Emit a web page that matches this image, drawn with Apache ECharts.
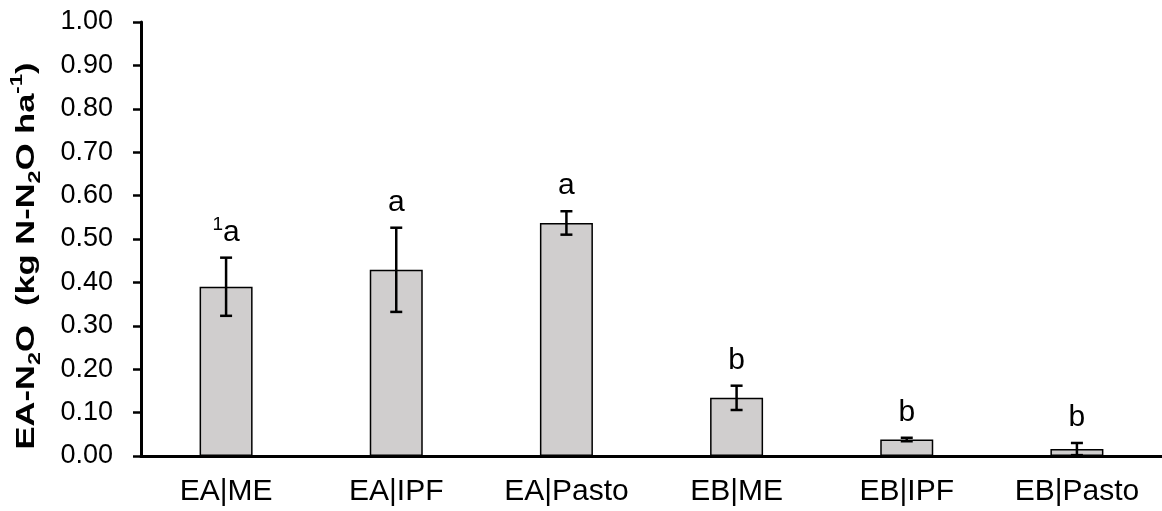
<!DOCTYPE html>
<html>
<head>
<meta charset="utf-8">
<script src="https://cdn.jsdelivr.net/npm/echarts@6/dist/echarts.min.js"></script>
<style>
html,body{margin:0;padding:0;background:#fff;}
#c{width:1162px;height:511px;}
</style>
</head>
<body>
<div id="c"></div>
<script>
const categories = ['EA|ME', 'EA|IPF', 'EA|Pasto', 'EB|ME', 'EB|IPF', 'EB|Pasto'];
const means = [0.390, 0.429, 0.537, 0.134, 0.038, 0.016];
const errors = [0.067, 0.097, 0.027, 0.028, 0.004, 0.014];
const letters = ['a', 'a', 'a', 'b', 'b', 'b'];
const letterNotes = ['1', '', '', '', '', ''];
const yMin = 0, yMax = 1, yStep = 0.1;

const FONT = '"Liberation Sans", Arial, sans-serif';
const chart = echarts.init(document.getElementById('c'), null, {renderer: 'canvas'});

function renderErr(params, api) {
  const i = api.value(0), m = api.value(1), e = api.value(2);
  const top = api.coord([i, m + e]);
  const bot = api.coord([i, Math.max(0, m - e)]);
  const half = 6;
  const ls = {stroke: '#000', lineWidth: 2.5};
  const note = letterNotes[i];
  const txt = (note ? '{sup|' + note + '}' : '') + '{n|' + letters[i] + '}';
  return {
    type: 'group',
    children: [
      {type: 'line', shape: {x1: top[0], y1: top[1], x2: bot[0], y2: bot[1]}, style: ls},
      {type: 'line', shape: {x1: top[0] - half, y1: top[1], x2: top[0] + half, y2: top[1]}, style: ls},
      {type: 'line', shape: {x1: bot[0] - half, y1: bot[1], x2: bot[0] + half, y2: bot[1]}, style: ls},
      {type: 'text', x: top[0], y: top[1] - 10,
        style: {text: txt, align: 'center', verticalAlign: 'bottom', fill: '#000',
          rich: {
            n: {fontSize: 30, fontFamily: FONT, lineHeight: 34, verticalAlign: 'bottom'},
            sup: {fontSize: 19, fontFamily: FONT, lineHeight: 34, verticalAlign: 'top', padding: [2, 0, 0, 0]}
          }}}
    ]
  };
}

const option = {
  animation: false,
  backgroundColor: '#fff',
  grid: {left: 141, right: 0, top: 22, bottom: 55, containLabel: false},
  xAxis: {
    type: 'category',
    data: categories,
    axisLine: {lineStyle: {color: '#000', width: 3}},
    axisTick: {alignWithLabel: true, length: 7, lineStyle: {color: '#000', width: 3}},
    axisLabel: {color: '#000', fontSize: 30, fontFamily: FONT, margin: 21},
    splitLine: {show: false}
  },
  yAxis: {
    type: 'value',
    min: yMin, max: yMax, interval: yStep,
    axisLine: {show: true, lineStyle: {color: '#000', width: 3}},
    axisTick: {show: true, length: 8, lineStyle: {color: '#000', width: 2.5}},
    axisLabel: {color: '#000', fontSize: 27, fontFamily: FONT, margin: 28,
      formatter: v => v.toFixed(2)},
    splitLine: {show: false}
  },
  graphic: [{
    type: 'text', x: 27, y: 256, rotation: Math.PI / 2, scaleX: 1.38,
    style: {
      text: '{b|EA-N}{s|2}{b|O  (kg N-N}{s|2}{b|O ha}{p|-1}{b|)}',
      align: 'center', verticalAlign: 'middle', fill: '#000',
      rich: {
        b: {fontSize: 25, fontWeight: 'bold', fontFamily: FONT, lineHeight: 34, verticalAlign: 'middle'},
        s: {fontSize: 17, fontWeight: 'bold', fontFamily: FONT, lineHeight: 20, verticalAlign: 'bottom'},
        p: {fontSize: 16, fontWeight: 'bold', fontFamily: FONT, lineHeight: 20, verticalAlign: 'top'}
      }
    }
  }],
  series: [
    {
      type: 'bar',
      data: means,
      barWidth: 53,
      itemStyle: {color: '#d0cece', borderColor: '#000', borderWidth: 1.5},
      z: 2
    },
    {
      type: 'custom',
      renderItem: renderErr,
      data: categories.map((c, i) => [i, means[i], errors[i]]),
      encode: {x: 0, y: 1},
      clip: false,
      z: 5
    }
  ]
};
chart.setOption(option);
</script>
</body>
</html>
